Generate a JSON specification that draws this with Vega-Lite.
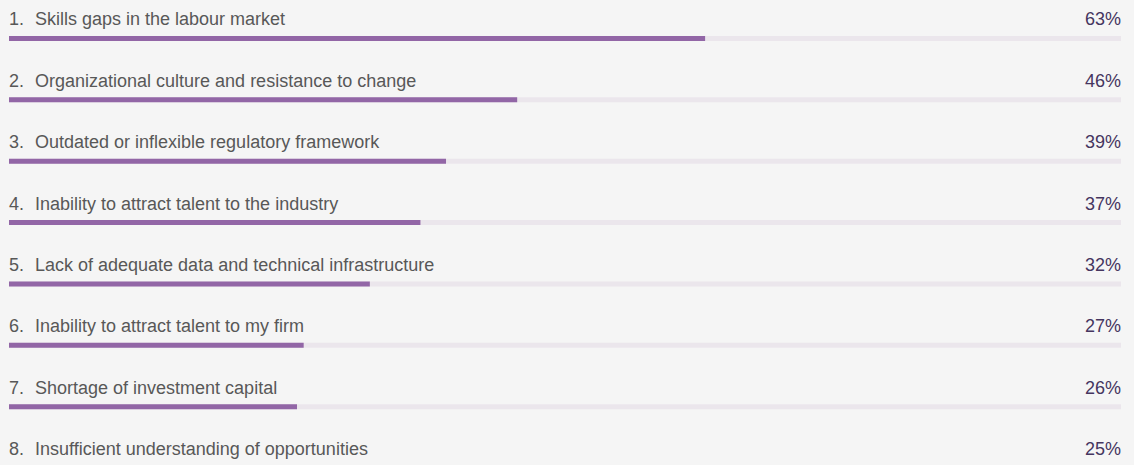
{
  "$schema": "https://vega.github.io/schema/vega-lite/v6.json",
  "width": 1134,
  "height": 491,
  "padding": 0,
  "autosize": {"type": "none"},
  "background": "#f5f5f5",
  "config": {"view": {"stroke": null}, "font": "Liberation Sans"},
  "data": {
    "values": [
      {"rank": 1, "num": "1.", "label": "Skills gaps in the labour market", "value": 0.626},
      {"rank": 2, "num": "2.", "label": "Organizational culture and resistance to change", "value": 0.457},
      {"rank": 3, "num": "3.", "label": "Outdated or inflexible regulatory framework", "value": 0.393},
      {"rank": 4, "num": "4.", "label": "Inability to attract talent to the industry", "value": 0.370},
      {"rank": 5, "num": "5.", "label": "Lack of adequate data and technical infrastructure", "value": 0.3245},
      {"rank": 6, "num": "6.", "label": "Inability to attract talent to my firm", "value": 0.265},
      {"rank": 7, "num": "7.", "label": "Shortage of investment capital", "value": 0.259},
      {"rank": 8, "num": "8.", "label": "Insufficient understanding of opportunities", "value": 0.25}
    ]
  },
  "layer": [
    {
      "mark": {"type": "bar", "height": 5, "color": "#ebe6ec", "yOffset": 7.8},
      "encoding": {
        "y": {"field": "rank", "type": "ordinal", "axis": null, "scale": {"paddingInner": 0, "paddingOuter": 0}},
        "x": {"datum": 1, "type": "quantitative", "scale": {"domain": [0, 1], "range": [9, 1121]}, "axis": null}
      }
    },
    {
      "mark": {"type": "bar", "height": 5, "color": "#9266a6", "yOffset": 7.8},
      "encoding": {
        "y": {"field": "rank", "type": "ordinal"},
        "x": {"field": "value", "type": "quantitative"}
      }
    },
    {
      "mark": {"type": "text", "align": "left", "baseline": "alphabetic", "dy": -5.2, "fontSize": 18, "color": "#585858"},
      "encoding": {
        "y": {"field": "rank", "type": "ordinal"},
        "x": {"datum": 0, "type": "quantitative"},
        "text": {"field": "num"}
      }
    },
    {
      "mark": {"type": "text", "align": "left", "baseline": "alphabetic", "dy": -5.2, "dx": 26, "fontSize": 18, "color": "#585858"},
      "encoding": {
        "y": {"field": "rank", "type": "ordinal"},
        "x": {"datum": 0, "type": "quantitative"},
        "text": {"field": "label"}
      }
    },
    {
      "mark": {"type": "text", "align": "right", "baseline": "alphabetic", "dy": -5.2, "fontSize": 18, "color": "#45355f"},
      "encoding": {
        "y": {"field": "rank", "type": "ordinal"},
        "x": {"datum": 1, "type": "quantitative"},
        "text": {"field": "value", "type": "quantitative", "format": ".0%"}
      }
    }
  ]
}
